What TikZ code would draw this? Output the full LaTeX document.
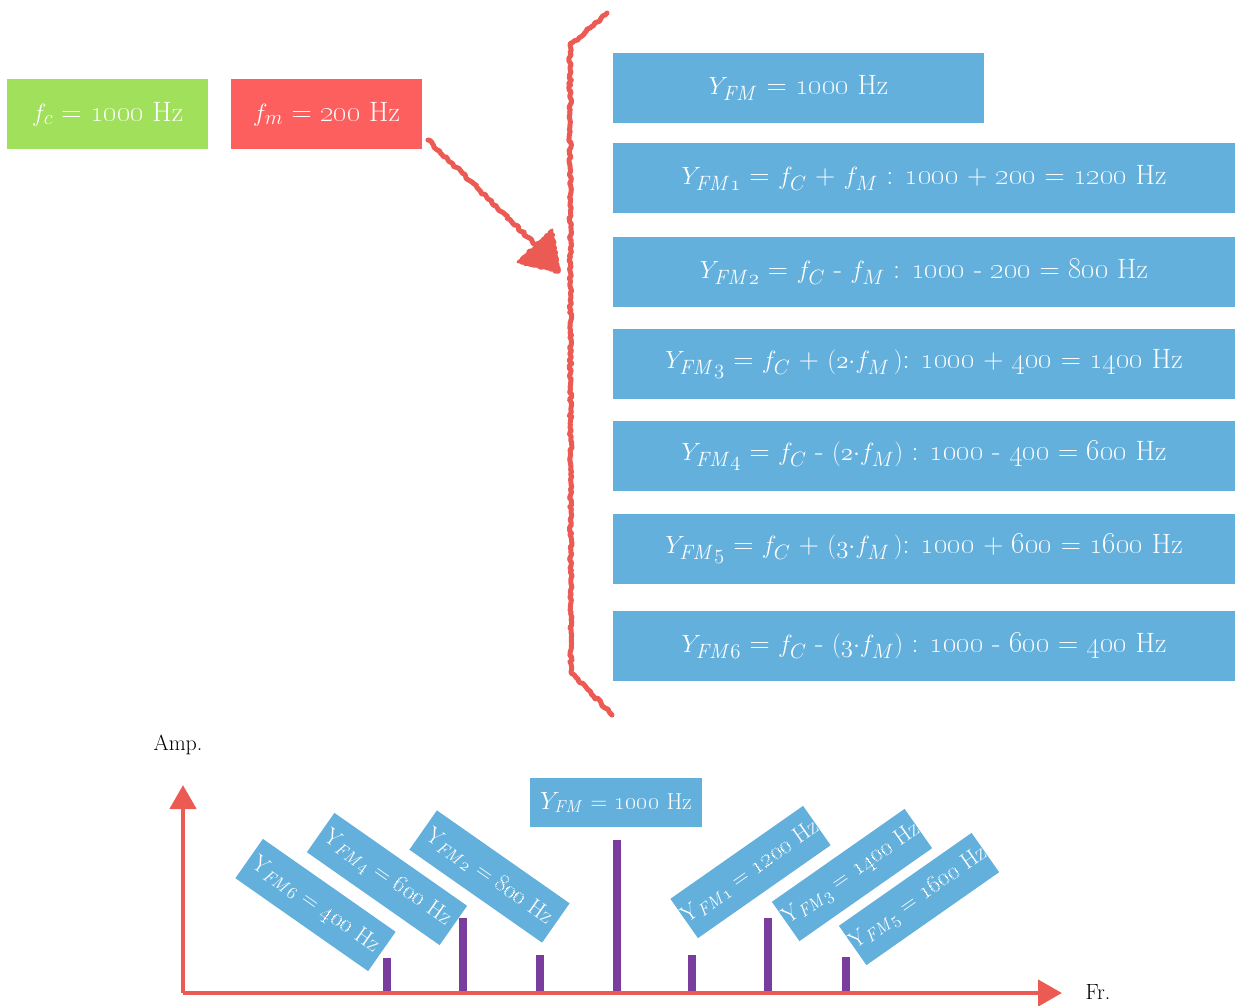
\documentclass[tikz,border=0pt]{standalone}
\usetikzlibrary{decorations.pathmorphing,arrows.meta}
\definecolor{fgreen}{RGB}{160,224,90}
\definecolor{fred}{RGB}{253,94,94}
\definecolor{fblue}{RGB}{99,176,221}
\definecolor{pen}{RGB}{236,90,84}
\definecolor{barc}{RGB}{122,61,158}
\newcommand{\os}[1]{\oldstylenums{#1}}
\begin{document}
\begin{tikzpicture}[x=1pt,y=-1pt,
  bigfont/.style={font=\fontsize{28}{32}\selectfont},
  box/.style={fill=fblue,text=white,minimum height=70pt,inner sep=0pt,bigfont},
  wide/.style={box,minimum width=622pt},
  lbl/.style={fill=fblue,text=white,minimum width=162pt,minimum height=48pt,inner sep=0pt,font=\fontsize{23}{26}\selectfont},
  sketch/.style={draw=pen,line width=5pt,line cap=round,line join=round,
     decorate,decoration={random steps,segment length=2.5pt,amplitude=1.3pt}},
  axis/.style={draw=pen,line width=4.5pt,-{Triangle[length=24pt,width=26pt]}},
  barline/.style={draw=barc,line width=8pt},
  plain/.style={text=black,font=\fontsize{22}{26}\selectfont}]
\useasboundingbox (0,0) rectangle (1235,1005);
\pgfmathsetseed{7}
% parameter boxes
\node[box,fill=fgreen,minimum width=201pt] (fc) at (107.5,114) {$f_c$ = \os{1000} Hz};
\node[box,fill=fred,minimum width=191pt] (fm) at (326.5,114) {$f_m$ = \os{200} Hz};
% result boxes
\node[box,minimum width=371pt] (y0) at (798.5,88) {$Y_{\mathit{FM}}$ = \os{1000} Hz};
\node[wide] (y1) at (924,178) {$Y_{\mathit{FM}\os{1}}$ = $f_C$ + $f_M$ : \os{1000} + \os{200} = \os{1200} Hz};
\node[wide] (y2) at (924,272) {$Y_{\mathit{FM}\os{2}}$ = $f_C$ - $f_M$ : \os{1000} - \os{200} = \os{800} Hz};
\node[wide] (y3) at (924,364) {$Y_{\mathit{FM}\os{3}}$ = $f_C$ + $(\os{2}{\cdot}f_M\,)$: \os{1000} + \os{400} = \os{1400} Hz};
\node[wide] (y4) at (924,456) {$Y_{\mathit{FM}\os{4}}$ = $f_C$ - $(\os{2}{\cdot}f_M)$ : \os{1000} - \os{400} = \os{600} Hz};
\node[wide] (y5) at (924,549) {$Y_{\mathit{FM}\os{5}}$ = $f_C$ + $(\os{3}{\cdot}f_M\,)$: \os{1000} + \os{600} = \os{1600} Hz};
\node[wide] (y6) at (924,646) {$Y_{\mathit{FM}\os{6}}$ = $f_C$ - $(\os{3}{\cdot}f_M)$ : \os{1000} - \os{600} = \os{400} Hz};
% brace
\coordinate (b1) at (607,13);
\coordinate (b2) at (570,45);
\coordinate (b3) at (571,672);
\coordinate (b4) at (612,715);
\draw[sketch] (b1) -- (b2) -- (b3) -- (b4);
% sketched arrow
\coordinate (a1) at (428,140);
\coordinate (a2) at (538,247);
\draw[sketch] (a1) -- (a2);
\fill[pen,draw=pen,line width=3pt,line join=round,decorate,decoration={random steps,segment length=2pt,amplitude=1pt}] (552,230) -- (518,262) -- (559,272) -- cycle;
% chart
\coordinate (o) at (183,993);
\coordinate (ytop) at (183,785);
\coordinate (xend) at (1062,993);
\draw[axis] (o) -- (ytop);
\draw[axis] (o) -- (xend);
\node[plain] (amp) at (178,745) {Amp.};
\node[plain] (fr) at (1098,992) {Fr.};
\foreach \x/\t in {387/958,463/918,540/955,617/840,692/955,768/918,846/957}
  \draw[barline] (\x,991) -- (\x,\t);
\node[fill=fblue,text=white,minimum width=172pt,minimum height=49pt,inner sep=0pt,font=\fontsize{23}{26}\selectfont] (l0) at (616,802.5) {$Y_{\mathit{FM}}$ = \os{1000} Hz};
\node[lbl,rotate=-35] (l6) at (315.5,905) {Y$_{\mathit{FM}\os{6}}$ = \os{400} Hz};
\node[lbl,rotate=-35] (l4) at (387,879) {Y$_{\mathit{FM}\os{4}}$ = \os{600} Hz};
\node[lbl,rotate=-35] (l2) at (489.5,876.5) {Y$_{\mathit{FM}\os{2}}$ = \os{800} Hz};
\node[lbl,rotate=35] (l1) at (750.5,872) {Y$_{\mathit{FM}\os{1}}$ = \os{1200} Hz};
\node[lbl,rotate=35] (l3) at (852,875) {Y$_{\mathit{FM}\os{3}}$ = \os{1400} Hz};
\node[lbl,rotate=35] (l5) at (919,899) {Y$_{\mathit{FM}\os{5}}$ = \os{1600} Hz};
\end{tikzpicture}
\end{document}
